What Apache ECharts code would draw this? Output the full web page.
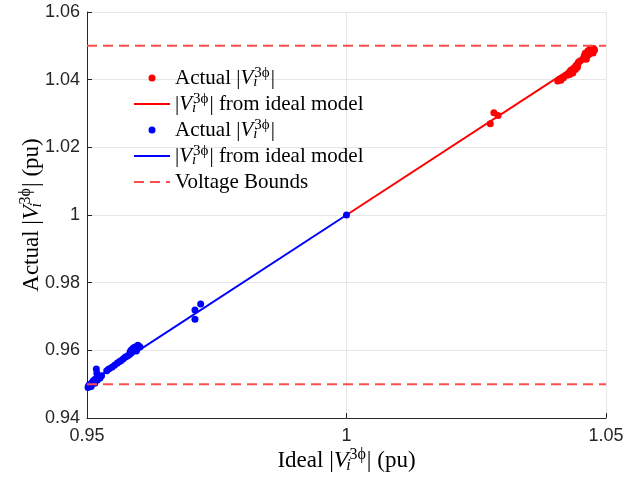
<!DOCTYPE html>
<html>
<head>
<meta charset="utf-8">
<script src="https://cdn.jsdelivr.net/npm/echarts@6/dist/echarts.min.js"></script>
<style>
  html, body { margin: 0; padding: 0; background: #ffffff; }
  #chart { width: 640px; height: 479px; }
</style>
</head>
<body>
<div id="chart"></div>
<script>
// Axis ranges and tick spacing
const xAxisRange = [0.95, 1.05];
const xTickStep = 0.05;
const yAxisRange = [0.94, 1.06];
const yTickStep = 0.02;

// Voltage limits drawn as dashed horizontal lines
const voltageBounds = [0.95, 1.05];

// Buses above nominal: [ideal, actual]
const actualHigh = [
  [1.0277, 1.0270], [1.0284, 1.0302], [1.0292, 1.0294],
  [1.0407, 1.0396], [1.0410, 1.0401], [1.0413, 1.0398], [1.0415, 1.0404], [1.0418, 1.0406],
  [1.0425, 1.0413], [1.0428, 1.0419], [1.0430, 1.0423], [1.0432, 1.0428], [1.0435, 1.0425],
  [1.0437, 1.0433], [1.0440, 1.0437], [1.0442, 1.0441], [1.0444, 1.0444], [1.0446, 1.0447],
  [1.0430, 1.0415], [1.0436, 1.0420], [1.0441, 1.0430], [1.0445, 1.0437], [1.0447, 1.0452],
  [1.0450, 1.0455], [1.0455, 1.0460], [1.0458, 1.0465], [1.0462, 1.0468], [1.0465, 1.0472],
  [1.0468, 1.0476], [1.0470, 1.0481], [1.0472, 1.0486], [1.0474, 1.0490], [1.0475, 1.0479],
  [1.0476, 1.0485], [1.0471, 1.0493], [1.0468, 1.0488], [1.0473, 1.0483],
  [1.0460, 1.0478], [1.0465, 1.0485], [1.0470, 1.0490], [1.0476, 1.0492], [1.0478, 1.0488],
  [1.0462, 1.0460], [1.0458, 1.0470]
];
// Ideal-model line for buses above nominal
const modelHigh = [[1.0, 1.0], [1.0472, 1.0472]];

// Buses below nominal: [ideal, actual]
const actualLow = [
  [0.9502, 0.9490], [0.9503, 0.9495], [0.9505, 0.9500], [0.9508, 0.9493], [0.9510, 0.9505],
  [0.9512, 0.9510], [0.9515, 0.9503], [0.9516, 0.9515], [0.9518, 0.9545], [0.9519, 0.9532],
  [0.9520, 0.9512], [0.9522, 0.9520], [0.9525, 0.9518], [0.9528, 0.9525], [0.9538, 0.9540],
  [0.9542, 0.9545], [0.9548, 0.9550], [0.9553, 0.9556], [0.9558, 0.9562], [0.9562, 0.9566],
  [0.9566, 0.9570], [0.9570, 0.9575], [0.9574, 0.9580], [0.9578, 0.9583], [0.9582, 0.9588],
  [0.9585, 0.9592], [0.9588, 0.9605], [0.9590, 0.9598], [0.9593, 0.9610], [0.9596, 0.9604],
  [0.9600, 0.9612], [0.9602, 0.9610],
  [0.9585, 0.9600], [0.9590, 0.9608], [0.9595, 0.9598], [0.9598, 0.9615], [0.9583, 0.9595],
  [0.9708, 0.9692], [0.9708, 0.9719], [0.9719, 0.9737],
  [1.0, 1.0]
];
// Ideal-model line for buses below nominal
const modelLow = [[0.95, 0.95], [1.0, 1.0]];

const serif = '"Liberation Serif", "DejaVu Serif", serif';
const sans = '"Liberation Sans", Arial, sans-serif';

// Rich styles for |V_i^{3ϕ}|: italic V, subscript i stacked under the superscript 3ϕ
function mathRich(base, small, lh) {
  return {
    v: { fontFamily: serif, fontStyle: 'italic', fontSize: base, lineHeight: lh, color: '#000' },
    i: { fontFamily: serif, fontStyle: 'italic', fontSize: small, lineHeight: small, width: 0, verticalAlign: 'bottom', color: '#000' },
    s: { fontFamily: serif, fontSize: small, lineHeight: small, verticalAlign: 'top', padding: [0, 1, 0, 1], color: '#000' }
  };
}
const Vsym = '{v|V}{i|i}{s|3ϕ}';

const legendText = {
  actualHigh: 'Actual |' + Vsym + '|',
  modelHigh: '|' + Vsym + '| from ideal model',
  actualLow: 'Actual |' + Vsym + '|',
  modelLow: '|' + Vsym + '| from ideal model',
  bounds: 'Voltage Bounds'
};

const fmt = v => String(Number(v.toFixed(2)));

const chart = echarts.init(document.getElementById('chart'), null, { renderer: 'canvas' });

function boundLine(level) {
  return {
    name: 'bounds',
    type: 'line',
    data: [[xAxisRange[0], level], [xAxisRange[1], level]],
    symbol: 'none',
    lineStyle: { color: '#ff4d4d', width: 2, type: [10, 6] },
    itemStyle: { color: '#ff4d4d' },
    z: 6,
    silent: true
  };
}

// Legend entries for lines show only the stroke
const hiddenDot = { opacity: 0 };

chart.setOption({
  backgroundColor: '#ffffff',
  animation: false,
  grid: { left: 87, right: 34, top: 12, bottom: 61, containLabel: false, outerBoundsMode: 'none' },
  legend: {
    left: 133,
    top: 66,
    orient: 'vertical',
    padding: 0,
    itemWidth: 36,
    itemHeight: 7,
    itemGap: 2,
    data: [
      { name: 'actualHigh' },
      { name: 'modelHigh', itemStyle: hiddenDot },
      { name: 'actualLow' },
      { name: 'modelLow', itemStyle: hiddenDot },
      { name: 'bounds', itemStyle: hiddenDot }
    ],
    formatter: name => legendText[name],
    textStyle: {
      fontFamily: serif, fontSize: 21, lineHeight: 24, color: '#000',
      rich: mathRich(21, 15, 24)
    },
    selectedMode: false
  },
  xAxis: {
    type: 'value',
    min: xAxisRange[0],
    max: xAxisRange[1],
    interval: xTickStep,
    name: 'Ideal |' + Vsym + '| (pu)',
    nameLocation: 'middle',
    nameGap: 29,
    nameMoveOverlap: false,
    nameTextStyle: { fontFamily: serif, fontSize: 23, lineHeight: 27, color: '#000', rich: mathRich(24, 16, 27) },
    axisLine: { show: true, onZero: false, lineStyle: { color: '#262626', width: 1 } },
    axisTick: { show: true, inside: true, length: 5, lineStyle: { color: '#262626' } },
    axisLabel: { fontFamily: sans, fontSize: 18, color: '#262626', margin: 9, formatter: fmt },
    splitLine: { show: true, lineStyle: { color: '#e6e6e6', width: 1 } }
  },
  yAxis: {
    type: 'value',
    min: yAxisRange[0],
    max: yAxisRange[1],
    interval: yTickStep,
    name: 'Actual |' + Vsym + '| (pu)',
    nameLocation: 'middle',
    nameGap: 42,
    nameMoveOverlap: false,
    nameTextStyle: { fontFamily: serif, fontSize: 23, lineHeight: 27, color: '#000', rich: mathRich(24, 16, 27) },
    axisLine: { show: true, onZero: false, lineStyle: { color: '#262626', width: 1 } },
    axisTick: { show: true, inside: true, length: 5, lineStyle: { color: '#262626' } },
    axisLabel: { fontFamily: sans, fontSize: 18, color: '#262626', margin: 7, formatter: fmt },
    splitLine: { show: true, lineStyle: { color: '#e6e6e6', width: 1 } }
  },
  series: [
    {
      name: 'actualHigh', type: 'scatter', data: actualHigh,
      symbol: 'circle', symbolSize: 7, itemStyle: { color: '#ff0000', opacity: 1 }, z: 2
    },
    {
      name: 'modelHigh', type: 'line', data: modelHigh, symbol: 'none',
      lineStyle: { color: '#ff0000', width: 2 }, itemStyle: { color: '#ff0000' }, z: 3
    },
    {
      name: 'actualLow', type: 'scatter', data: actualLow,
      symbol: 'circle', symbolSize: 7, itemStyle: { color: '#0000ff', opacity: 1 }, z: 4
    },
    {
      name: 'modelLow', type: 'line', data: modelLow, symbol: 'none',
      lineStyle: { color: '#0000ff', width: 2 }, itemStyle: { color: '#0000ff' }, z: 5
    },
    boundLine(voltageBounds[0]),
    boundLine(voltageBounds[1])
  ]
});
</script>
</body>
</html>
